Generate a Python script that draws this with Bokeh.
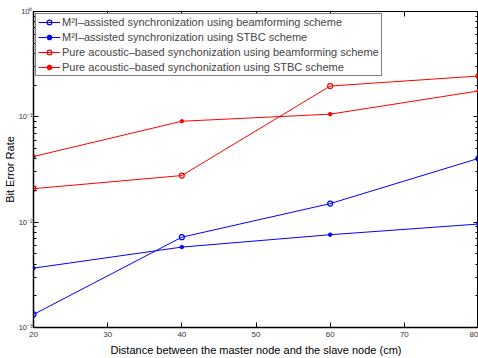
from bokeh.plotting import figure
from bokeh.models import LinearAxis, LogAxis, Legend, LegendItem, CustomJSTickFormatter, FixedTicker, LogTicker, Range1d
from bokeh.embed import file_html
from bokeh.resources import INLINE

# ---- data ----
distance = [20, 40, 60, 80]
m2i_beam = [1.33e-3, 7.2e-3, 0.0150, 0.0403]
m2i_stbc = [3.66e-3, 5.8e-3, 7.6e-3, 9.6e-3]
ac_beam = [0.0208, 0.0277, 0.196, 0.244]
ac_stbc = [0.042, 0.0908, 0.106, 0.176]
x_ticks = [20, 30, 40, 50, 60, 70, 80]
y_ticks = [1e-3, 1e-2, 1e-1, 1.0]
series_labels = [
    "M\u00b2I\u2013assisted synchronization using beamforming scheme",
    "M\u00b2I\u2013assisted synchronization using STBC scheme",
    "Pure acoustic\u2013based synchonization using beamforming scheme",
    "Pure acoustic\u2013based synchonization using STBC scheme",
]
x_label = "Distance between the master node and the slave node (cm)"
y_label = "Bit Error Rate"

FONT = "Liberation Sans"

p = figure(width=478, height=358, y_axis_type="log",
           x_range=Range1d(20, 80), y_range=Range1d(1e-3, 1.0),
           output_backend="svg", toolbar_location=None,
           min_border_left=0, min_border_right=0, min_border_top=11, min_border_bottom=0)
p.grid.visible = False
p.outline_line_color = "black"
p.background_fill_color = "white"
p.border_fill_color = "white"

sup = CustomJSTickFormatter(code="""
const m = {'-':'\u207b','0':'\u2070','1':'\u00b9','2':'\u00b2','3':'\u00b3','4':'\u2074','5':'\u2075','6':'\u2076','7':'\u2077','8':'\u2078','9':'\u2079'};
const e = Math.round(Math.log10(tick));
return '10' + String(e).split('').map(c => m[c]).join('');
""")
blank = CustomJSTickFormatter(code="return '';")

xa = p.xaxis[0]
xa.ticker = FixedTicker(ticks=x_ticks)
xa.axis_label = x_label
ya = p.yaxis[0]
ya.ticker = LogTicker(num_minor_ticks=10)
ya.formatter = sup
ya.axis_label = y_label

for ax in (xa, ya):
    ax.axis_line_color = "black"
    ax.axis_line_width = 1.5
    ax.major_tick_line_color = "black"
    ax.minor_tick_line_color = "black"
    ax.major_tick_in = 5
    ax.major_tick_out = 0
    ax.minor_tick_in = 3
    ax.minor_tick_out = 0
    ax.major_label_text_font = FONT
    ax.major_label_text_font_size = "8px"
    ax.major_label_text_color = "#333333"
    ax.axis_label_text_font = FONT
    ax.axis_label_text_font_size = "11px"
    ax.axis_label_text_font_style = "normal"
    ax.axis_label_text_color = "black"
    ax.major_label_standoff = 4
    ax.axis_label_standoff = 4
xa.minor_tick_line_color = None
ya.major_label_text_font_size = "7.5px"
ya.major_label_standoff = 1
ya.axis_label_standoff = 0

top = LinearAxis(ticker=FixedTicker(ticks=x_ticks), formatter=blank,
                 major_tick_in=5, major_tick_out=0, minor_tick_line_color=None,
                 major_label_text_font_size="0px", major_label_standoff=0)
right = LogAxis(ticker=LogTicker(num_minor_ticks=10), formatter=blank,
                major_tick_in=5, major_tick_out=0, minor_tick_in=3, minor_tick_out=0,
                major_label_text_font_size="0px", major_label_standoff=0)
p.add_layout(top, "above")
p.add_layout(right, "right")

BLUE = "#0000ff"
RED = "#ff0000"
items = []
specs = [
    (m2i_beam, BLUE, "circle"),
    (m2i_stbc, BLUE, "dot"),
    (ac_beam, RED, "circle"),
    (ac_stbc, RED, "dot"),
]
for (ys, col, mk), lab in zip(specs, series_labels):
    ln = p.line(distance, ys, line_color=col, line_width=1)
    if mk == "circle":
        sc = p.scatter(distance, ys, marker="circle", size=5, line_color=col,
                       fill_color="white", fill_alpha=0, line_width=1.2)
    else:
        sc = p.scatter(distance, ys, marker="circle", size=3.5, line_color=col,
                       fill_color=col, line_width=1)
    items.append(LegendItem(label=lab, renderers=[ln, sc]))

leg = Legend(items=items, location="top_left")
leg.label_text_font = FONT
leg.label_text_font_size = "11px"
leg.label_height = 12
leg.glyph_height = 12
leg.glyph_width = 22
leg.spacing = 3
leg.padding = 2
leg.margin = 2
leg.label_standoff = 2
leg.border_line_color = "black"
leg.border_line_width = 1
leg.background_fill_alpha = 1
p.add_layout(leg)

open("out.html", "w").write(file_html(p, INLINE))
